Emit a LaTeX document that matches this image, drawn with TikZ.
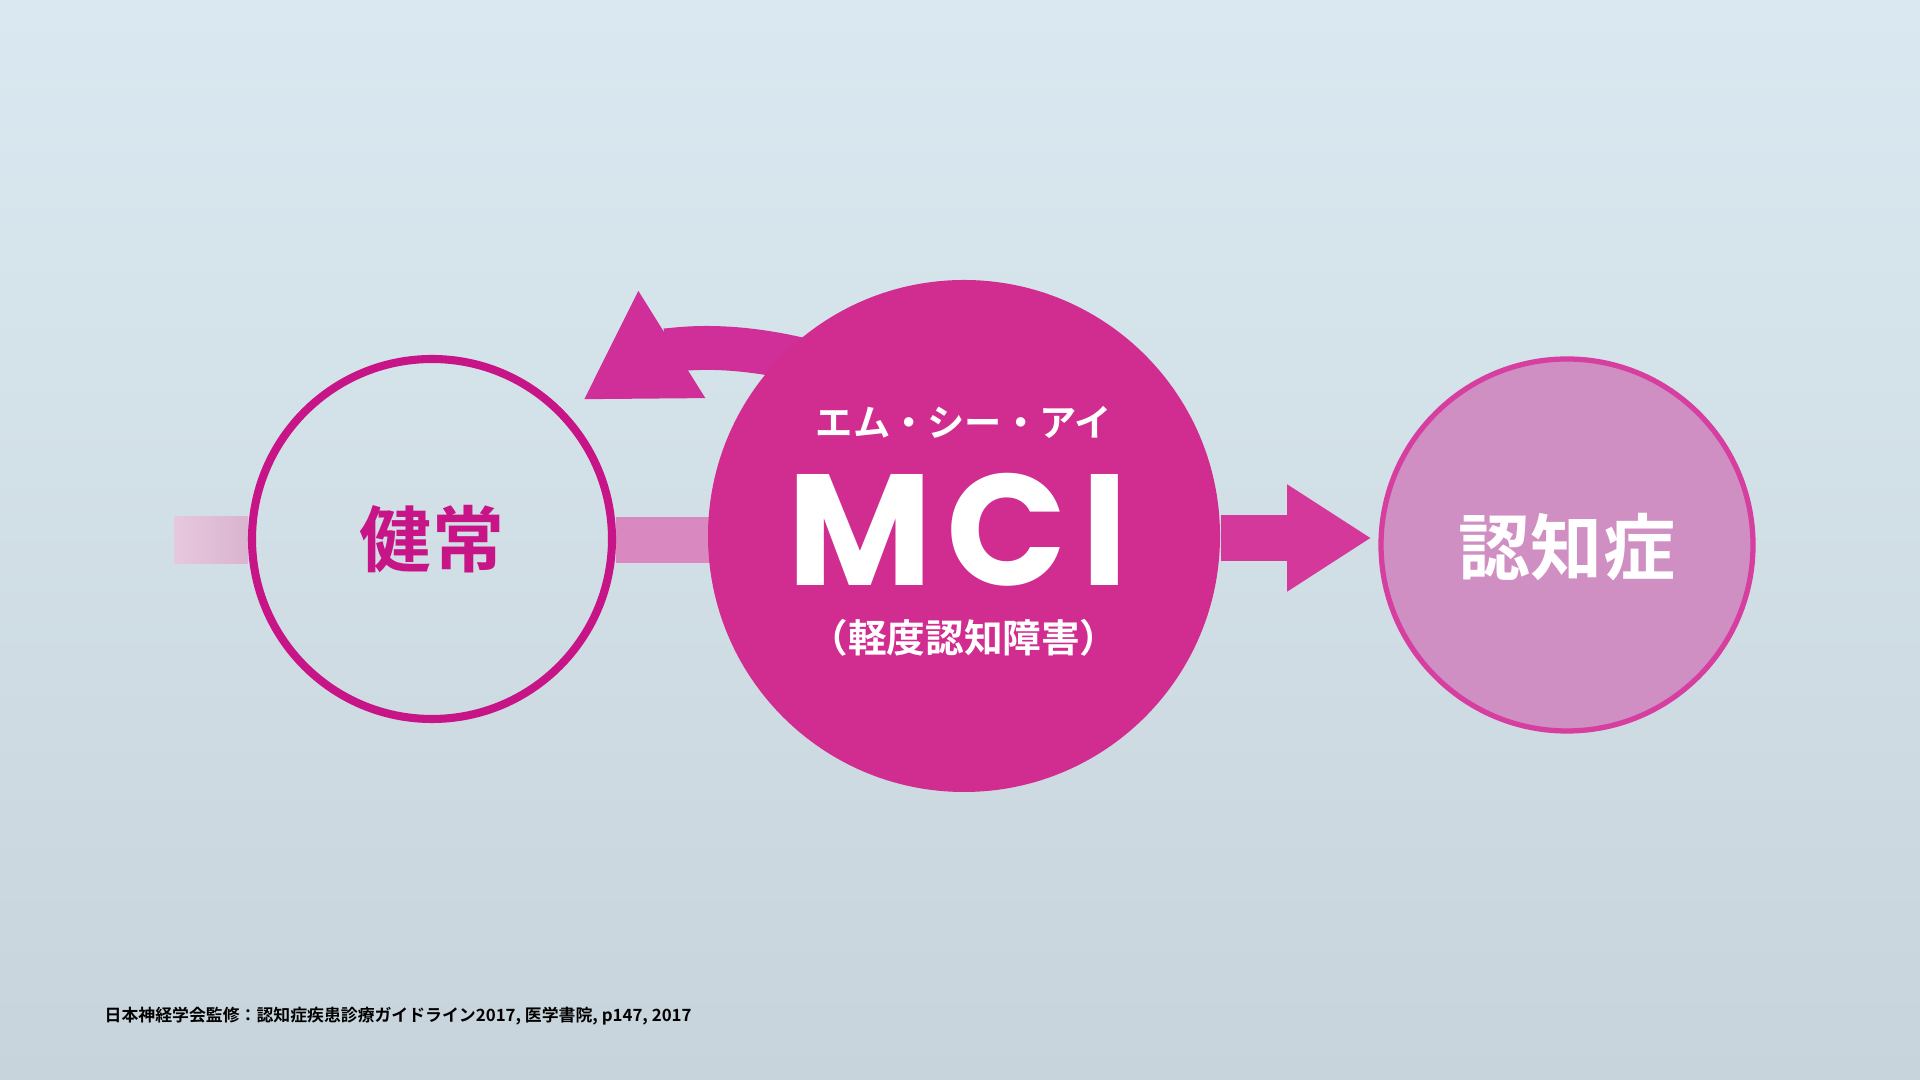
\documentclass[tikz,border=0pt]{standalone}
\usepackage{fontspec}
\newfontfamily\jp{Noto Sans CJK JP}[BoldFont={Noto Sans CJK JP Bold}]
\newfontfamily\mcifont{Poppins}[LetterSpace=9]
\usetikzlibrary{arrows.meta,calc}
\pgfdeclarelayer{background}
\pgfsetlayers{background,main}

\definecolor{bgtop}{HTML}{DAE9F1}
\definecolor{bgbot}{HTML}{C8D4DB}
\definecolor{magline}{HTML}{C71588}
\definecolor{mcifill}{HTML}{D12C8F}
\definecolor{dementfill}{HTML}{D08FC2}
\definecolor{dementline}{HTML}{D63EA0}
\definecolor{barlight}{HTML}{E6C8DD}
\definecolor{barmid}{HTML}{DAB4D0}
\definecolor{barpink}{HTML}{DA88C0}
\definecolor{fwdpink}{HTML}{D5389B}
\definecolor{backpink}{HTML}{D02E98}

\tikzset{
    stage/.style={circle, inner sep=0pt},
    jptext/.style={font=\jp\bfseries\fontsize{#1}{#1}\selectfont}
}

\begin{document}
\begin{tikzpicture}
    \useasboundingbox (0,0) rectangle (19.2,10.8);

    % the three stages
    \node[stage, draw=magline, line width=2.3pt, minimum size=3.6cm] (kenjo) at (4.32,5.41) {};
    \node[stage, fill=mcifill, minimum size=5.12cm] (mci) at (9.64,5.44) {};
    \node[stage, draw=dementline, line width=1.5pt, fill=dementfill, minimum size=3.72cm] (ninchi) at (15.67,5.35) {};

    \node[jptext=20.5, text=magline] (kenjolabel) at (kenjo.center) {健常};
    \node[jptext=20.5, text=white] (ninchilabel) at (15.67,5.33) {認知症};

    \node[jptext=10.6, text=white] (mcikana) at (9.64,6.58) {エム・シー・アイ};
    \node[inner sep=0pt, text=white, font=\mcifont\bfseries\fontsize{45}{45}\selectfont] (mcilabel) at (9.58,5.50) {MCI};
    \node[jptext=11, text=white] (mcifull) at (9.64,4.42) {（軽度認知障害）};

    % arrows
    \coordinate (barstart) at (1.74,5.40);
    \coordinate (backtip) at (5.83,6.80);

    \begin{pgfonlayer}{background}
        \shade[top color=bgtop, bottom color=bgbot] (0,0) rectangle (19.2,10.8);
        \fill[left color=barlight, right color=barmid] ($(barstart)+(0,-0.233)$) rectangle ($(kenjo.west |- barstart)+(0,0.233)$);
        \fill[barpink] ($(kenjo.east |- barstart)+(0,-0.233)$) rectangle ($(mci.center |- barstart)+(0,0.233)$);
        \draw[backpink, line width=12.5pt, shorten <=-10pt,
            -{Triangle[width=33.7pt,length=29.8pt]}]
            (mci.135) to[out=165, in=32] (backtip);
    \end{pgfonlayer}

    \draw[fwdpink, line width=13.2pt, shorten >=0.07cm,
        -{Triangle[width=28.8pt,length=24pt]}] (mci.east |- 0,5.42) -- (ninchi.west |- 0,5.42);

    % source
    \node[anchor=west, inner sep=0pt, jptext=4.8] (source) at (1.04,0.64)
        {日本神経学会監修：認知症疾患診療ガイドライン2017, 医学書院, p147, 2017};
\end{tikzpicture}
\end{document}
